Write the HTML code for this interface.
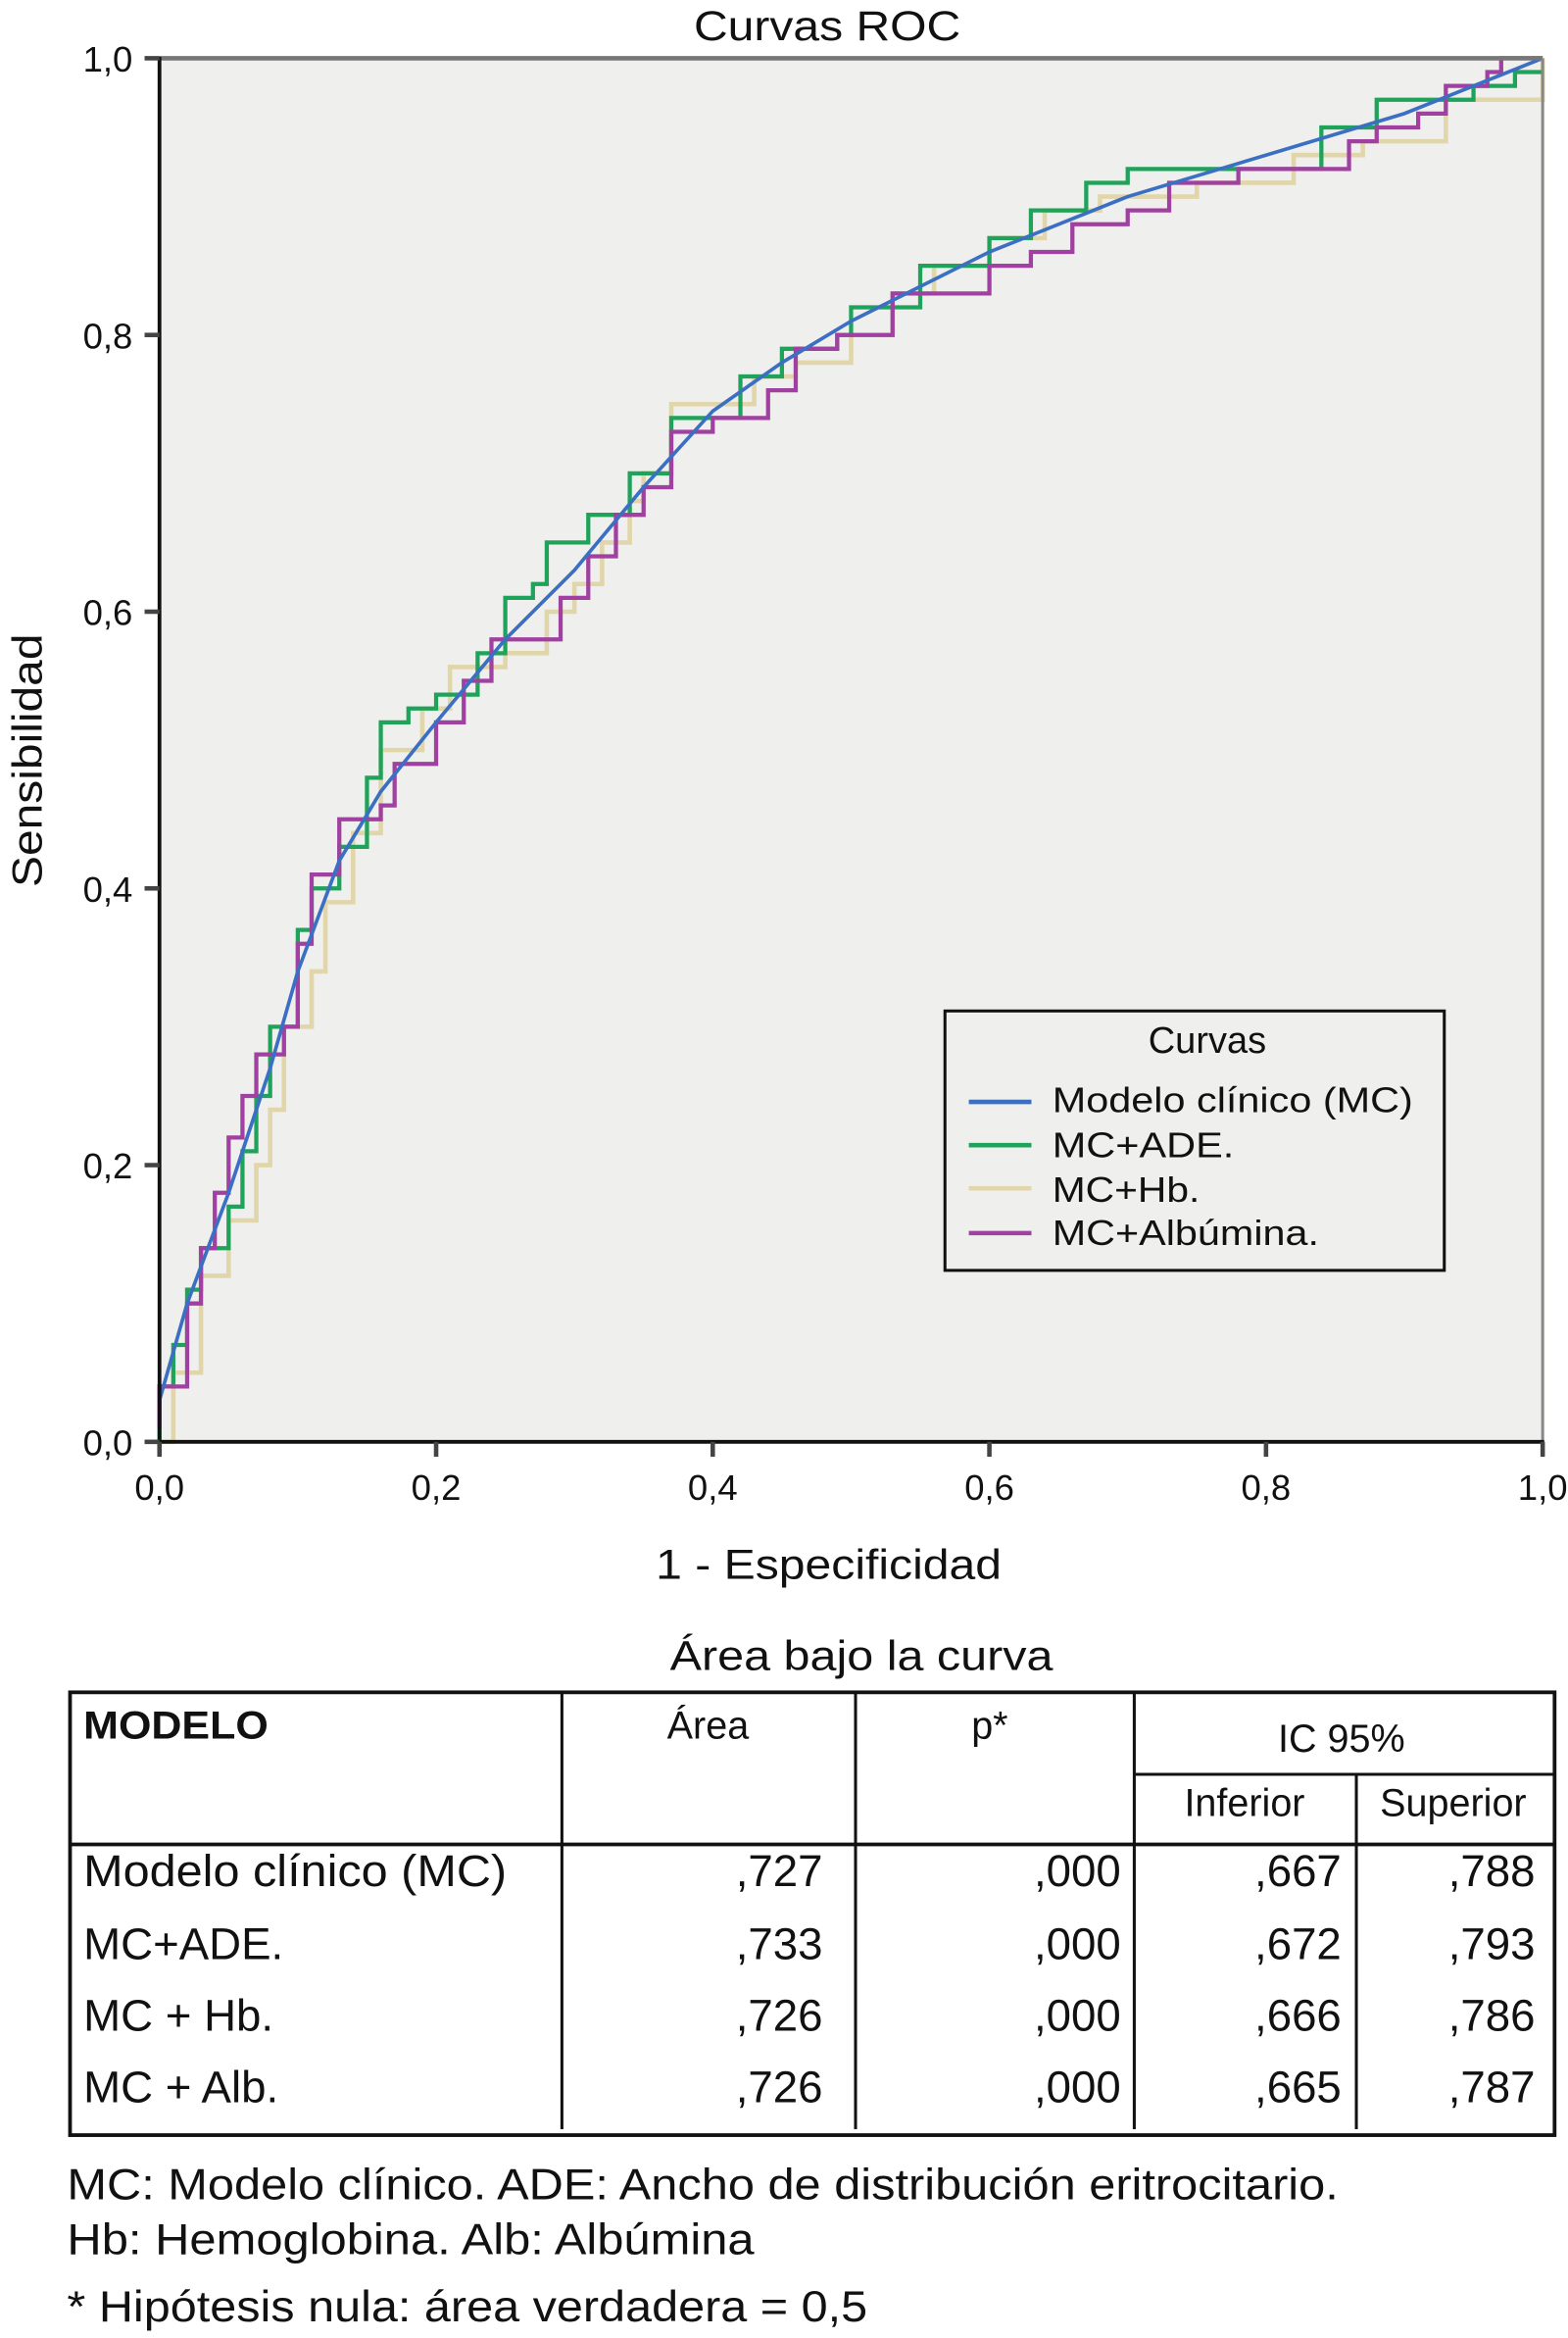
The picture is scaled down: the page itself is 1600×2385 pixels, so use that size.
<!DOCTYPE html>
<html><head><meta charset="utf-8"><style>
html,body{margin:0;padding:0;background:#fff}
svg{display:block}
text{font-family:"Liberation Sans",sans-serif;fill:#111}
</style></head><body>
<svg id="chart" width="1600" height="2385" viewBox="0 0 1052 1568">
<text x="555" y="27" font-size="28" text-anchor="middle" textLength="179" lengthAdjust="spacingAndGlyphs">Curvas ROC</text>
<rect x="107" y="39" width="928" height="928" fill="#efefed"/>
<g id="curves"></g>
<line x1="107" y1="39" x2="1035" y2="39" stroke="#777" stroke-width="3"/>
<line x1="1035" y1="39" x2="1035" y2="967" stroke="#888" stroke-width="2"/>
<line x1="107" y1="38" x2="107" y2="968" stroke="#111" stroke-width="2.5"/>
<line x1="106" y1="967" x2="1036" y2="967" stroke="#111" stroke-width="2.5"/>
<g id="ticks"></g>
<text transform="translate(28,510) rotate(-90)" font-size="28" text-anchor="middle" textLength="170" lengthAdjust="spacingAndGlyphs">Sensibilidad</text>
<text x="556" y="1059" font-size="28" text-anchor="middle" textLength="232" lengthAdjust="spacingAndGlyphs">1 - Especificidad</text>

<g>
<rect x="634" y="678" width="335" height="174" fill="#efefed" stroke="#111" stroke-width="2"/>
<text x="810" y="706" font-size="25" text-anchor="middle">Curvas</text>
<line x1="650" y1="739" x2="692" y2="739" stroke="#3b6fc4" stroke-width="3"/>
<text x="706" y="746" font-size="24" textLength="242" lengthAdjust="spacingAndGlyphs">Modelo clínico (MC)</text>
<line x1="650" y1="768" x2="692" y2="768" stroke="#1fa35a" stroke-width="3"/>
<text x="706" y="776" font-size="24" textLength="122" lengthAdjust="spacingAndGlyphs">MC+ADE.</text>
<line x1="650" y1="797" x2="692" y2="797" stroke="#e0d6aa" stroke-width="3"/>
<text x="706" y="806" font-size="24" textLength="99" lengthAdjust="spacingAndGlyphs">MC+Hb.</text>
<line x1="650" y1="827" x2="692" y2="827" stroke="#a040a0" stroke-width="3"/>
<text x="706" y="835" font-size="24" textLength="179" lengthAdjust="spacingAndGlyphs">MC+Albúmina.</text>
</g>

<text x="578" y="1120" font-size="28" text-anchor="middle" textLength="257" lengthAdjust="spacingAndGlyphs">Área bajo la curva</text>
<g stroke="#111" fill="none">
<rect x="47" y="1135" width="996" height="297" stroke-width="2.5"/>
<line x1="377" y1="1135" x2="377" y2="1428" stroke-width="2"/>
<line x1="574" y1="1135" x2="574" y2="1428" stroke-width="2"/>
<line x1="761" y1="1135" x2="761" y2="1428" stroke-width="2"/>
<line x1="910" y1="1190" x2="910" y2="1428" stroke-width="2"/>
<line x1="761" y1="1190" x2="1043" y2="1190" stroke-width="2"/>
<line x1="47" y1="1237" x2="1043" y2="1237" stroke-width="2.5"/>
</g>
<g font-size="28">
<text x="56" y="1166" font-size="26" font-weight="bold" textLength="124" lengthAdjust="spacingAndGlyphs">MODELO</text>
<text x="475" y="1166" text-anchor="middle" font-size="26">Área</text>
<text x="664" y="1166" text-anchor="middle" font-size="26">p*</text>
<text x="900" y="1175" text-anchor="middle" font-size="26">IC 95%</text>
<text x="835" y="1218" text-anchor="middle" font-size="26">Inferior</text>
<text x="975" y="1218" text-anchor="middle" font-size="26">Superior</text>
</g>
<g id="rows" font-size="30"></g>

<text x="45" y="1475" font-size="29" textLength="853" lengthAdjust="spacingAndGlyphs">MC: Modelo clínico. ADE: Ancho de distribución eritrocitario.</text>
<text x="45" y="1512" font-size="29" textLength="461" lengthAdjust="spacingAndGlyphs">Hb: Hemoglobina. Alb: Albúmina</text>
<text x="45" y="1557" font-size="29" textLength="537" lengthAdjust="spacingAndGlyphs">* Hipótesis nula: área verdadera = 0,5</text>
</svg>
<script>
const tickValues = [0, 0.2, 0.4, 0.6, 0.8, 1.0];
const tickLabels = ["0,0", "0,2", "0,4", "0,6", "0,8", "1,0"];
const mcX = [0,0.02,0.05,0.08,0.1,0.13,0.16,0.2,0.25,0.3,0.35,0.4,0.45,0.5,0.55,0.6,0.65,0.7,0.8,0.9,1];
const mcY = [0.03,0.1,0.18,0.27,0.34,0.42,0.47,0.52,0.58,0.63,0.69,0.745,0.78,0.81,0.835,0.86,0.88,0.9,0.93,0.96,1];
const adeX = [0,0,0.01,0.02,0.03,0.05,0.06,0.07,0.08,0.1,0.11,0.13,0.15,0.16,0.18,0.2,0.23,0.25,0.27,0.28,0.31,0.34,0.37,0.41,0.42,0.45,0.49,0.5,0.54,0.55,0.6,0.63,0.67,0.7,0.8,0.84,0.88,0.95,0.98,1];
const adeY = [0,0.04,0.07,0.11,0.14,0.17,0.21,0.25,0.3,0.37,0.4,0.43,0.48,0.52,0.53,0.54,0.57,0.61,0.62,0.65,0.67,0.7,0.74,0.74,0.77,0.79,0.8,0.82,0.82,0.85,0.87,0.89,0.91,0.92,0.92,0.95,0.97,0.98,0.99,0.99];
const hbX = [0,0.01,0.03,0.05,0.07,0.08,0.09,0.11,0.12,0.14,0.16,0.19,0.21,0.25,0.28,0.3,0.32,0.34,0.35,0.37,0.41,0.43,0.46,0.5,0.53,0.56,0.6,0.64,0.68,0.75,0.82,0.87,0.93,0.96,1];
const hbY = [0,0.05,0.12,0.16,0.2,0.24,0.3,0.34,0.39,0.44,0.5,0.53,0.56,0.57,0.6,0.62,0.65,0.68,0.7,0.75,0.75,0.77,0.78,0.8,0.83,0.85,0.87,0.89,0.9,0.91,0.93,0.94,0.97,0.97,1];
const albX = [0,0,0.02,0.03,0.04,0.05,0.06,0.07,0.09,0.1,0.11,0.13,0.16,0.17,0.2,0.22,0.24,0.27,0.29,0.31,0.33,0.35,0.37,0.4,0.44,0.46,0.49,0.53,0.56,0.6,0.63,0.66,0.7,0.73,0.78,0.84,0.86,0.88,0.91,0.93,0.96,0.97,1];
const albY = [0.01,0.04,0.1,0.14,0.18,0.22,0.25,0.28,0.3,0.36,0.41,0.45,0.46,0.49,0.52,0.55,0.58,0.58,0.61,0.64,0.67,0.69,0.73,0.74,0.76,0.79,0.8,0.83,0.83,0.85,0.86,0.88,0.89,0.91,0.92,0.92,0.94,0.95,0.96,0.98,0.99,1,1];
const rowNames = ["Modelo clínico (MC)", "MC+ADE.", "MC + Hb.", "MC + Alb."];
const areaVals = [",727", ",733", ",726", ",726"];
const pVals = [",000", ",000", ",000", ",000"];
const infVals = [",667", ",672", ",666", ",665"];
const supVals = [",788", ",793", ",786", ",787"];

const NS = "http://www.w3.org/2000/svg";
const X0 = 107, X1 = 1035, Y0 = 967, Y1 = 39;
function sx(v){ return X0 + v*(X1-X0); }
function sy(v){ return Y0 - v*(Y0-Y1); }
function mk(tag, attrs, parent){ const e = document.createElementNS(NS, tag); for (const k in attrs) e.setAttribute(k, attrs[k]); parent.appendChild(e); return e; }

const ticks = document.getElementById('ticks');
tickValues.forEach((v,i)=>{
  const ty = mk('line',{x1:X0-10,y1:sy(v),x2:X0,y2:sy(v),stroke:'#444','stroke-width':3},ticks);
  
  
  const ly = mk('text',{x:89,y:sy(v)+9,'font-size':24,'text-anchor':'end'},ticks);
  ly.textContent = tickLabels[i];
  
  
  const tx = mk('line',{x1:sx(v),y1:Y0,x2:sx(v),y2:Y0+10,stroke:'#444','stroke-width':3},ticks);
  
  
  const lx = mk('text',{x:sx(v),y:1006,'font-size':24,'text-anchor':'middle'},ticks);
  lx.textContent = tickLabels[i];
  
  
});

const curves = document.getElementById('curves');
function stepPath(xs, ys){
  let d = 'M'+sx(xs[0])+','+sy(ys[0]);
  for (let i=1;i<xs.length;i++){ d += ' H'+sx(xs[i])+' V'+sy(ys[i]); }
  return d;
}
function linePath(xs, ys){
  return xs.map((x,i)=>(i?'L':'M')+sx(x)+','+sy(ys[i])).join(' ');
}
const pHb = mk('path',{d:stepPath(hbX,hbY),fill:'none',stroke:'#e0d6aa','stroke-width':3},curves);


const pAde = mk('path',{d:stepPath(adeX,adeY),fill:'none',stroke:'#1fa35a','stroke-width':2.8},curves);


const pAlb = mk('path',{d:stepPath(albX,albY),fill:'none',stroke:'#a040a0','stroke-width':2.8},curves);


const pMc = mk('path',{d:linePath(mcX,mcY),fill:'none',stroke:'#3b6fc4','stroke-width':2.4},curves);



const rows = document.getElementById('rows');
const rowY = [1265, 1314, 1362, 1410];
rowNames.forEach((n,i)=>{
  const t = mk('text',{x:56,y:rowY[i]},rows);
  t.textContent = n;
  
  
  if (i===0){ t.setAttribute('textLength','284'); t.setAttribute('lengthAdjust','spacingAndGlyphs'); }
  [[areaVals,552],[pVals,752],[infVals,900],[supVals,1030]].forEach(([arr,x])=>{
    const c = mk('text',{x:x,y:rowY[i],'text-anchor':'end'},rows);
    c.textContent = arr[i];
    
    
  });
});
</script>
</body></html>
